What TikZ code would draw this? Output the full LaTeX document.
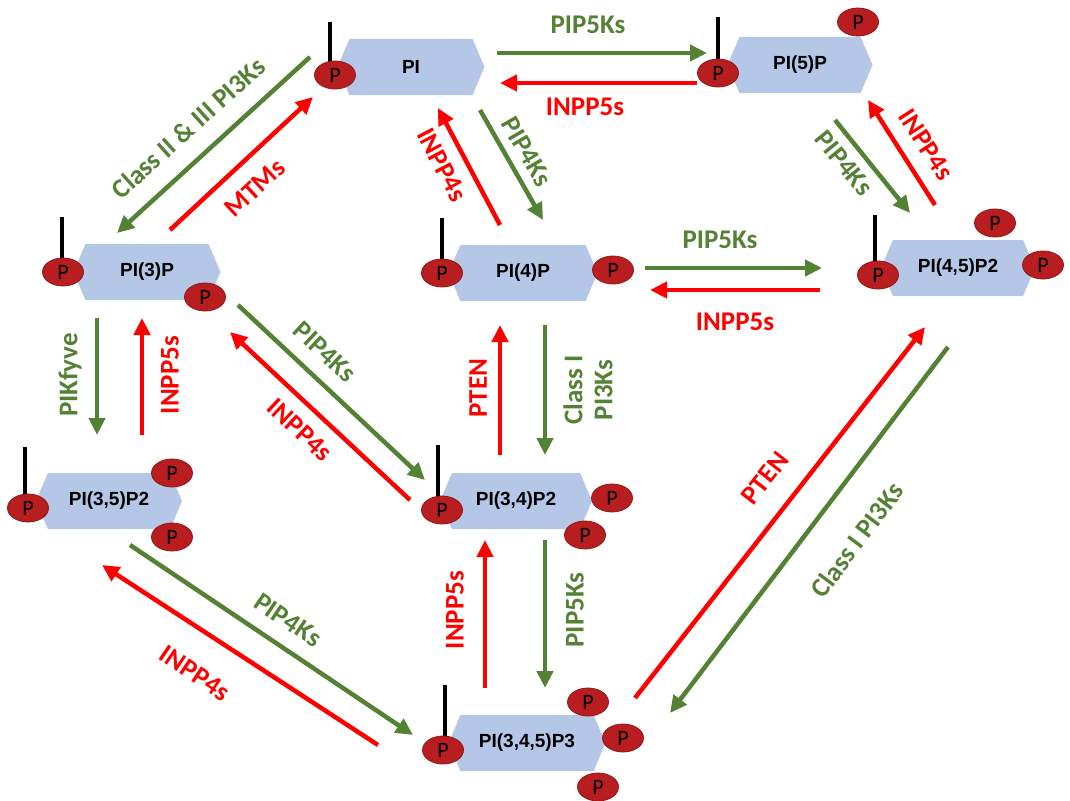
\documentclass[tikz,border=0pt]{standalone}
\usepackage{fontspec}
\setmainfont{Carlito}
\newfontfamily\arialfont{Liberation Sans}
\usetikzlibrary{shapes.symbols,shapes.geometric,arrows.meta,calc}
\definecolor{boxblue}{RGB}{180,199,231}
\definecolor{pred}{RGB}{184,30,32}
\definecolor{pedge}{RGB}{150,22,22}
\definecolor{ggreen}{RGB}{84,130,53}
\definecolor{rred}{RGB}{255,0,0}
\pgfdeclarelayer{background}
\pgfdeclarelayer{sticklayer}
\pgfsetlayers{background,sticklayer,main}
\begin{document}
\begin{tikzpicture}[x=1pt,y=-1pt,
 lipid/.style={signal, signal to=east and west, signal pointer angle=134, fill=boxblue, draw=none,
   minimum height=56pt, inner sep=0pt, font=\arialfont\bfseries\fontsize{19}{21}\selectfont},
 phos/.style={ellipse, fill=pred, draw=pedge, line width=0.8pt, minimum width=41pt, minimum height=28pt,
   inner sep=0pt, font=\fontsize{22}{24}\selectfont},
 stick/.style={line width=4.5pt, black},
 garr/.style={line width=4.5pt, ggreen, -{Triangle[length=17pt,width=16pt]}},
 rarr/.style={line width=4.5pt, rred, -{Triangle[length=17pt,width=16pt]}},
 glab/.style={text=ggreen, font=\bfseries\fontsize{27}{30}\selectfont, inner sep=0pt, align=center},
 rlab/.style={text=rred, font=\bfseries\fontsize{27}{30}\selectfont, inner sep=0pt, align=center}
]
\begin{pgfonlayer}{background}
\fill[white] (0,0) rectangle (1070,800);
\end{pgfonlayer}
\useasboundingbox (0,0) rectangle (1070,800);

% lipid boxes
\node[lipid, minimum width=147pt] (PI) at (411,67) {PI};
\node[lipid, minimum width=145pt] (PI5) at (800,65) {PI(5)P};
\node[lipid, minimum width=147pt] (PI3) at (147,272) {PI(3)P};
\node[lipid, minimum width=149pt] (PI4) at (523,273) {PI(4)P};
\node[lipid, minimum width=154pt] (PI45) at (958,268) {PI(4,5)P2};
\node[lipid, minimum width=146pt] (PI35) at (109,501) {PI(3,5)P2};
\node[lipid, minimum width=152pt] (PI34) at (516,501) {PI(3,4)P2};
\node[lipid, minimum width=157pt] (PI345) at (527,743) {PI(3,4,5)P3};

% phosphates
\node[phos] (pPI) at (335,75) {P};
\node[phos] (pPI5a) at (718,73) {P};
\node[phos] (pPI5b) at (858,22) {P};
\node[phos] (pPI3a) at (63,272) {P};
\node[phos] (pPI3b) at (205,297) {P};
\node[phos] (pPI4a) at (442,273) {P};
\node[phos] (pPI4b) at (613,270) {P};
\node[phos] (pPI45a) at (878,275) {P};
\node[phos] (pPI45b) at (995,223) {P};
\node[phos] (pPI45c) at (1043,265) {P};
\node[phos] (pPI35a) at (28,508) {P};
\node[phos] (pPI35b) at (172,473) {P};
\node[phos] (pPI35c) at (172,537) {P};
\node[phos] (pPI34a) at (442,510) {P};
\node[phos] (pPI34b) at (612,498) {P};
\node[phos] (pPI34c) at (585,535) {P};
\node[phos] (pPI345a) at (443,750) {P};
\node[phos] (pPI345b) at (588,702) {P};
\node[phos] (pPI345c) at (623,738) {P};
\node[phos] (pPI345d) at (598,787) {P};

% sticks
\begin{pgfonlayer}{sticklayer}
\draw[stick] ([shift={(-5,0)}]pPI.center) -- ++(0,-53);
\draw[stick] (pPI5a.center) -- ++(0,-56);
\draw[stick] ([shift={(-1,0)}]pPI3a.center) -- ++(0,-55);
\draw[stick] (pPI4a.center) -- ++(0,-55);
\draw[stick] ([shift={(-3,0)}]pPI45a.center) -- ++(0,-60);
\draw[stick] ([shift={(-3,0)}]pPI35a.center) -- ++(0,-61);
\draw[stick] ([shift={(-4,0)}]pPI34a.center) -- ++(0,-65);
\draw[stick] ([shift={(2,0)}]pPI345a.center) -- ++(0,-65);
\end{pgfonlayer}

% arrows
\draw[garr] ([shift={(86,-14)}]PI.center) -- ([shift={(-93,-12)}]PI5.center);
\draw[rarr] ([shift={(-103,18)}]PI5.center) -- ([shift={(89,16)}]PI.center);
\draw[garr] ([shift={(-101,-10)}]PI.center) -- ([shift={(-30,-39)}]PI3.center);
\draw[rarr] ([shift={(23,-42)}]PI3.center) -- ([shift={(-98,30)}]PI.center);
\draw[garr] ([shift={(69,43)}]PI.center) -- ([shift={(20,-53)}]PI4.center);
\draw[rarr] ([shift={(-23,-48)}]PI4.center) -- ([shift={(27,41)}]PI.center);
\draw[garr] ([shift={(35,55)}]PI5.center) -- ([shift={(-48,-55)}]PI45.center);
\draw[rarr] ([shift={(-23,-63)}]PI45.center) -- ([shift={(68,35)}]PI5.center);
\draw[garr] ([shift={(122,-5)}]PI4.center) -- ([shift={(-136,0)}]PI45.center);
\draw[rarr] ([shift={(-138,22)}]PI45.center) -- ([shift={(127,17)}]PI4.center);
\draw[garr] ([shift={(-50,46)}]PI3.center) -- ([shift={(-12,-66)}]PI35.center);
\draw[rarr] ([shift={(33,-66)}]PI35.center) -- ([shift={(-5,46)}]PI3.center);
\draw[garr] ([shift={(91,33)}]PI3.center) -- ([shift={(-91,-21)}]PI34.center);
\draw[rarr] ([shift={(-106,-1)}]PI34.center) -- ([shift={(83,60)}]PI3.center);
\draw[rarr] ([shift={(-16,-46)}]PI34.center) -- ([shift={(-23,52)}]PI4.center);
\draw[garr] ([shift={(22,52)}]PI4.center) -- ([shift={(29,-46)}]PI34.center);
\draw[rarr] ([shift={(-42,-55)}]PI345.center) -- ([shift={(-31,39)}]PI34.center);
\draw[garr] ([shift={(29,39)}]PI34.center) -- ([shift={(18,-55)}]PI345.center);
\draw[rarr] ([shift={(108,-45)}]PI345.center) -- ([shift={(-33,59)}]PI45.center);
\draw[garr] ([shift={(-10,79)}]PI45.center) -- ([shift={(143,-30)}]PI345.center);
\draw[garr] ([shift={(21,44)}]PI35.center) -- ([shift={(-114,-8)}]PI345.center);
\draw[rarr] ([shift={(-149,2)}]PI345.center) -- ([shift={(-7,64)}]PI35.center);

% labels
\node[glab] (l1) at (588,25) {PIP5Ks};
\node[rlab] (l2) at (585,107) {INPP5s};
\node[glab, rotate=42] (l3) at (188,128) {Class II \& III PI3Ks};
\node[rlab, rotate=43] (l4) at (255,188) {MTMs};
\node[glab, rotate=-60] (l5) at (527,152) {PIP4Ks};
\node[rlab, rotate=-62] (l6) at (442,165) {INPP4s};
\node[glab, rotate=-51] (l7) at (844,163) {PIP4Ks};
\node[rlab, rotate=-57] (l8) at (926,145) {INPP4s};
\node[glab] (l9) at (720,240) {PIP5Ks};
\node[rlab] (l10) at (735,322) {INPP5s};
\node[glab, rotate=90] (l11) at (70,375) {PIKfyve};
\node[rlab, rotate=90] (l12) at (170,375) {INPP5s};
\node[glab, rotate=-43] (l13) at (325,352) {PIP4Ks};
\node[rlab, rotate=-43] (l14) at (300,430) {INPP4s};
\node[rlab, rotate=90] (l15) at (478,388) {PTEN};
\node[glab, rotate=90] (l16) at (588,390) {Class I\\PI3Ks};
\node[rlab, rotate=90] (l17) at (455,610) {INPP5s};
\node[glab, rotate=90] (l18) at (575,610) {PIP5Ks};
\node[rlab, rotate=52] (l19) at (765,478) {PTEN};
\node[glab, rotate=53] (l20) at (857,540) {Class I PI3Ks};
\node[glab, rotate=-34] (l21) at (288,620) {PIP4Ks};
\node[rlab, rotate=-34] (l22) at (195,673) {INPP4s};
\end{tikzpicture}
\end{document}
